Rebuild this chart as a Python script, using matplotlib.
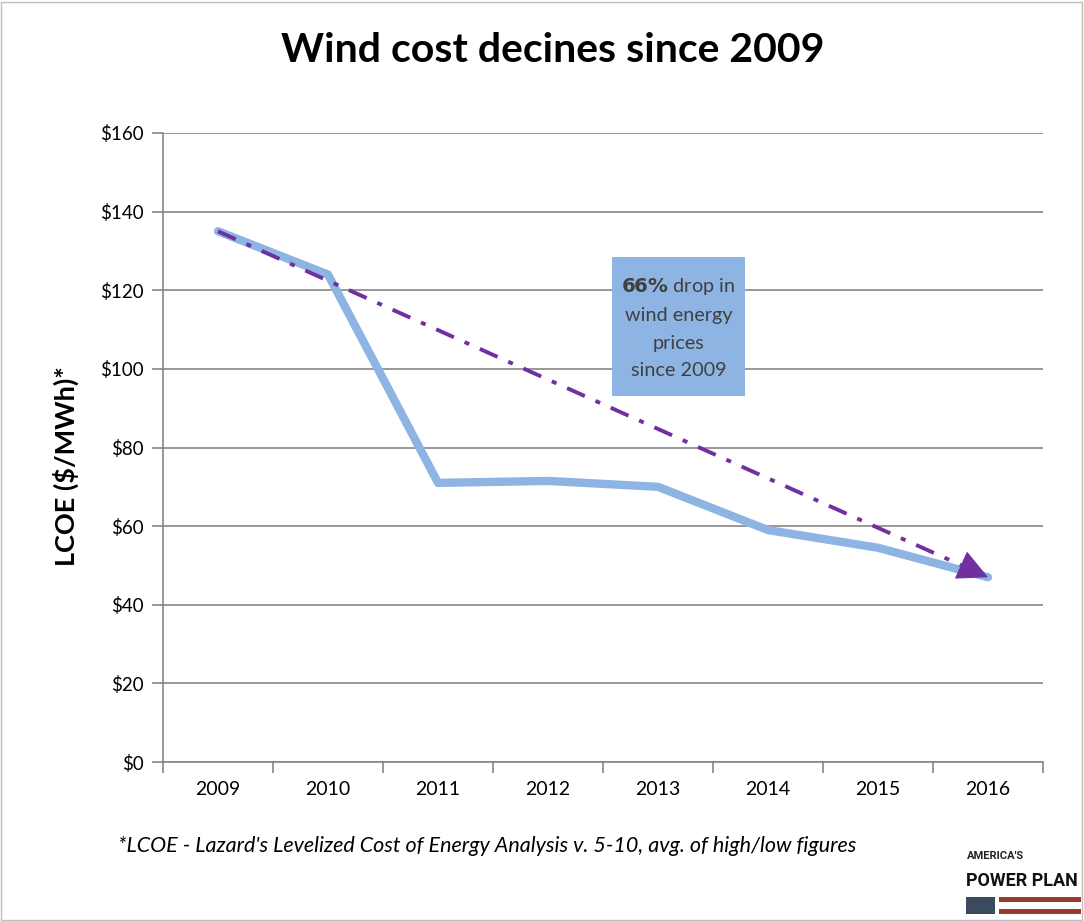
import matplotlib
matplotlib.use("Agg")
import matplotlib.pyplot as plt
from matplotlib.patches import Rectangle
from matplotlib.ticker import FuncFormatter

years = ["2009", "2010", "2011", "2012", "2013", "2014", "2015", "2016"]
lcoe = [135, 124, 71, 71.5, 70, 59, 54.5, 47]
y_ticks = [0, 20, 40, 60, 80, 100, 120, 140, 160]

FONT = ["Lato", "DejaVu Sans"]
plt.rcParams['font.family'] = FONT

fig = plt.figure(figsize=(10.84, 9.21), dpi=100)
fig.patches.append(Rectangle((0.001, 0.001), 0.997, 0.997, transform=fig.transFigure,
                             fill=False, edgecolor="#bfbfbf", linewidth=1))
ax = fig.add_axes([0.1504, 0.1726, 0.8118, 0.683])

x = list(range(len(years)))
ax.plot(x, lcoe, color="#8DB4E2", linewidth=6, solid_capstyle="round",
        solid_joinstyle="round", zorder=3)

# trend arrow: dashed shaft + solid head
x0, y0, x1, y1 = x[0], lcoe[0], x[-1], lcoe[-1]
f = 0.965
xm, ym = x0 + (x1 - x0) * f, y0 + (y1 - y0) * f
ax.plot([x0, xm], [y0, ym], color="#7030A0", linewidth=2.8,
        linestyle=(0, (5, 3, 1.3, 3)), zorder=4)
ax.annotate("", xy=(x1, y1), xytext=(xm, ym),
            arrowprops=dict(arrowstyle="-|>,head_length=0.9,head_width=0.45",
                            mutation_scale=22, color="#7030A0", linewidth=1,
                            shrinkA=0, shrinkB=0), zorder=4)

ax.set_xlim(-0.5, len(years) - 0.5)
ax.set_ylim(0, 160)
ax.set_yticks(y_ticks)
ax.yaxis.set_major_formatter(FuncFormatter(lambda v, p: f"${int(v)}"))
ax.set_xticks(x)
ax.set_xticklabels(years)
ax.set_xticks([i - 0.5 for i in range(len(years) + 1)], minor=True)
ax.grid(axis="y", color="#868686", linewidth=1.2)
ax.set_axisbelow(True)
for s in ["top", "right"]:
    ax.spines[s].set_visible(False)
ax.spines["left"].set_color("#868686")
ax.spines["bottom"].set_color("#868686")
ax.spines["left"].set_linewidth(1.2)
ax.spines["bottom"].set_linewidth(1.2)
ax.tick_params(axis="x", which="major", length=0, labelsize=14, colors="#000000", pad=14)
ax.tick_params(axis="x", which="minor", length=8, color="#868686", width=1.2)
ax.tick_params(axis="y", length=8, color="#868686", width=1.2, labelsize=13.5, pad=6)

ax.set_ylabel("LCOE ($/MWh)*", fontsize=19.5, fontweight="bold")
ax.yaxis.set_label_coords(-0.096, 0.47)

fig.text(0.5102, 0.945, "Wind cost decines since 2009", ha="center", va="center",
         fontsize=29.5, fontweight="bold")

# annotation box
box_x0, box_x1 = 612 / 1084, 745 / 1084
box_y0, box_y1 = 1 - 396 / 921, 1 - 257 / 921
fig.patches.append(Rectangle((box_x0, box_y0), box_x1 - box_x0, box_y1 - box_y0,
                             transform=fig.transFigure, facecolor="#8DB4E2",
                             edgecolor="none", zorder=5))
cx = (box_x0 + box_x1) / 2
lines_y = [286, 315, 343, 370]
fig.text(cx, 1 - lines_y[0] / 921, "$\\bf{66\\%}$ drop in", ha="center", va="center",
         fontsize=14.3, color="#404040", zorder=6)
for s, yy in zip(["wind energy", "prices", "since 2009"], lines_y[1:]):
    fig.text(cx, 1 - yy / 921, s, ha="center", va="center", fontsize=14.3,
             color="#404040", zorder=6)

fig.text(118 / 1084, 1 - 846 / 921,
         "*LCOE - Lazard's Levelized Cost of Energy Analysis v. 5-10, avg. of high/low figures",
         ha="left", va="center", fontsize=15.5, style="italic")

# logo
fig.text(967 / 1084, 1 - 856 / 921, "AMERICA'S", ha="left", va="center",
         fontsize=8, fontweight="bold", family=["Roboto", "DejaVu Sans"], color="#222222")
fig.text(966 / 1084, 1 - 881 / 921, "POWER PLAN", ha="left", va="center",
         fontsize=13, fontweight="bold", family=["Roboto", "DejaVu Sans"], color="#111111")
fig.patches.append(Rectangle((966 / 1084, 1 - 914 / 921), 29 / 1084, 17 / 921,
                             transform=fig.transFigure, facecolor="#3B4A5E", edgecolor="none"))
fig.patches.append(Rectangle((999 / 1084, 1 - 902 / 921), 82 / 1084, 5 / 921,
                             transform=fig.transFigure, facecolor="#9B3A2E", edgecolor="none"))
fig.patches.append(Rectangle((999 / 1084, 1 - 914 / 921), 82 / 1084, 5 / 921,
                             transform=fig.transFigure, facecolor="#9B3A2E", edgecolor="none"))

fig.savefig("out.png", dpi=100)
